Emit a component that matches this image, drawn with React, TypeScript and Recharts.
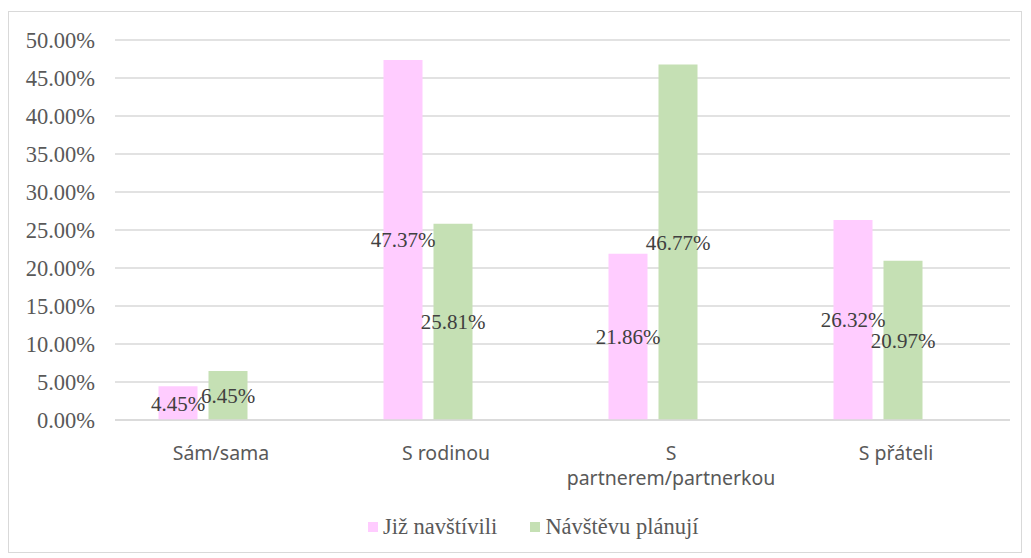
import React from 'react';
import {
  BarChart,
  Bar,
  XAxis,
  YAxis,
  CartesianGrid,
  LabelList,
  Legend,
  Text,
} from 'recharts';

const categories = ['Sám/sama', 'S rodinou', 'S partnerem/partnerkou', 'S přáteli'];
const visited = [4.45, 47.37, 21.86, 26.32];
const planned = [6.45, 25.81, 46.77, 20.97];
const yTicks = [0, 5, 10, 15, 20, 25, 30, 35, 40, 45, 50];

const seriesNames = { visited: 'Již navštívili', planned: 'Návštěvu plánují' };
const PINK = '#FFCCFF';
const GREEN = '#C5E0B4';
const SERIF = "'Liberation Serif', 'Times New Roman', serif";

const data = categories.map((name, i) => ({
  name,
  visited: visited[i],
  planned: planned[i],
}));

const pct = (v: number) => `${v.toFixed(2)}%`;

// category labels wrap onto a second line when they are long
const CategoryTick = (props: any) => {
  const { x, y, payload } = props;
  return (
    <g transform={`translate(${x + 18},${y})`}>
      <Text
        x={0}
        y={0}
        width={120}
        lineHeight={25}
        textAnchor="middle"
        verticalAnchor="start"
        fill="#595959"
        style={{ fontSize: 19.5, fontFamily: "'Noto Sans', sans-serif" }}
      >
        {payload.value}
      </Text>
    </g>
  );
};

const LegendContent = () => (
  <div style={{ display: 'flex', alignItems: 'center', fontFamily: SERIF, fontSize: 22.5, color: '#595959', lineHeight: '24px' }}>
    <span style={{ width: 10, height: 10, background: PINK, marginRight: 5, display: 'inline-block' }} />
    <span style={{ marginRight: 33 }}>{seriesNames.visited}</span>
    <span style={{ width: 10, height: 10, background: GREEN, marginRight: 5, display: 'inline-block' }} />
    <span>{seriesNames.planned}</span>
  </div>
);

export default function App() {
  return (
    <div
      style={{
        marginTop: 3,
        width: 1012,
        height: 540,
        border: '1px solid #D9D9D9',
        background: '#fff',
        fontFamily: SERIF,
      }}
    >
      <BarChart
        width={1012}
        height={540}
        data={data}
        margin={{ top: 28, right: 11, bottom: 36, left: 0 }}
        barGap={11}
        barSize={39}
      >
        <CartesianGrid vertical={false} stroke="#D9D9D9" strokeWidth={1.5} />
        <XAxis
          dataKey="name"
          height={72}
          padding={{ left: -24.5, right: 19.5 }}
          axisLine={{ stroke: '#D9D9D9', strokeWidth: 1.5 }}
          tickLine={false}
          tickSize={0}
          tickMargin={26}
          interval={0}
          tick={<CategoryTick />}
        />
        <YAxis
          width={106}
          domain={[0, 50]}
          ticks={yTicks}
          interval={0}
          axisLine={false}
          tickLine={false}
          tickSize={0}
          tickMargin={20}
          tickFormatter={pct}
          tick={{ fill: '#595959', fontSize: 22.5, fontFamily: SERIF }}
        />
        <Legend
          content={<LegendContent />}
          wrapperStyle={{ left: 359, top: 503, width: 'auto' }}
        />
        <Bar dataKey="visited" name={seriesNames.visited} fill={PINK} isAnimationActive={false}>
          <LabelList
            dataKey="visited"
            position="center"
            formatter={(v: any) => pct(Number(v))}
            fill="#404040"
            fontSize={21}
            fontFamily={SERIF}
          />
        </Bar>
        <Bar dataKey="planned" name={seriesNames.planned} fill={GREEN} isAnimationActive={false}>
          <LabelList
            dataKey="planned"
            position="center"
            formatter={(v: any) => pct(Number(v))}
            fill="#404040"
            fontSize={21}
            fontFamily={SERIF}
          />
        </Bar>
      </BarChart>
    </div>
  );
}
